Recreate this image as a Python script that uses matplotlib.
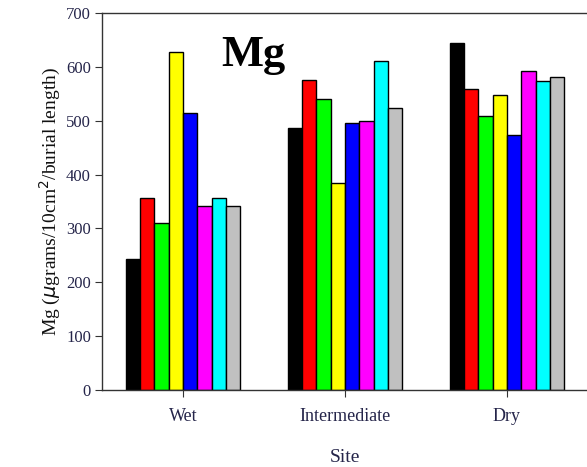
import numpy as np
import matplotlib.pyplot as plt

sites = ["Wet", "Intermediate", "Dry"]
colors = ["#000000", "#ff0000", "#00ff00", "#ffff00", "#0000ff", "#ff00ff", "#00ffff", "#c0c0c0"]

# one list per bar colour, values for Wet / Intermediate / Dry
s_black = [243, 487, 644]
s_red = [356, 576, 558]
s_green = [310, 540, 508]
s_yellow = [628, 384, 547]
s_blue = [514, 495, 474]
s_magenta = [341, 499, 592]
s_cyan = [356, 610, 574]
s_gray = [341, 524, 582]
series = [s_black, s_red, s_green, s_yellow, s_blue, s_magenta, s_cyan, s_gray]

plt.rcParams['font.family'] = ['Liberation Serif', 'DejaVu Serif']

fig = plt.figure(figsize=(5.87, 4.67), dpi=100)
ax = fig.add_axes([102/587, 1 - 390/467, 486/587, 377/467])

x = np.arange(len(sites))
w = 0.0885
for i, (vals, c) in enumerate(zip(series, colors)):
    ax.bar(x + (i - 3.5) * w, vals, width=w, color=c, edgecolor="black", linewidth=1)

ax.set_xlim(-0.5, 2.5)
ax.set_ylim(0, 700)
ax.set_yticks(range(0, 701, 100))
ax.set_xticks(x)
ax.set_xticklabels(sites)
ax.spines['right'].set_visible(False)
for s in ['left', 'top', 'bottom']:
    ax.spines[s].set_color('#333333')
    ax.spines[s].set_linewidth(1)
ax.tick_params(axis='both', direction='out', length=5, color='#333333', labelcolor='#25254a')
ax.tick_params(axis='y', labelsize=12, pad=3)
ax.tick_params(axis='x', labelsize=13, pad=8)

ax.set_xlabel("Site", fontsize=14, color='#25254a', labelpad=17)
ax.set_ylabel("Mg ($\\mu$grams/10cm$^2$/burial length)", fontsize=14, color='#111111', labelpad=2)

ax.text(0.312, 0.889, "Mg", transform=ax.transAxes, fontsize=32, fontweight='bold',
        ha='center', va='center', color='black')

fig.savefig("out.png", dpi=100)
